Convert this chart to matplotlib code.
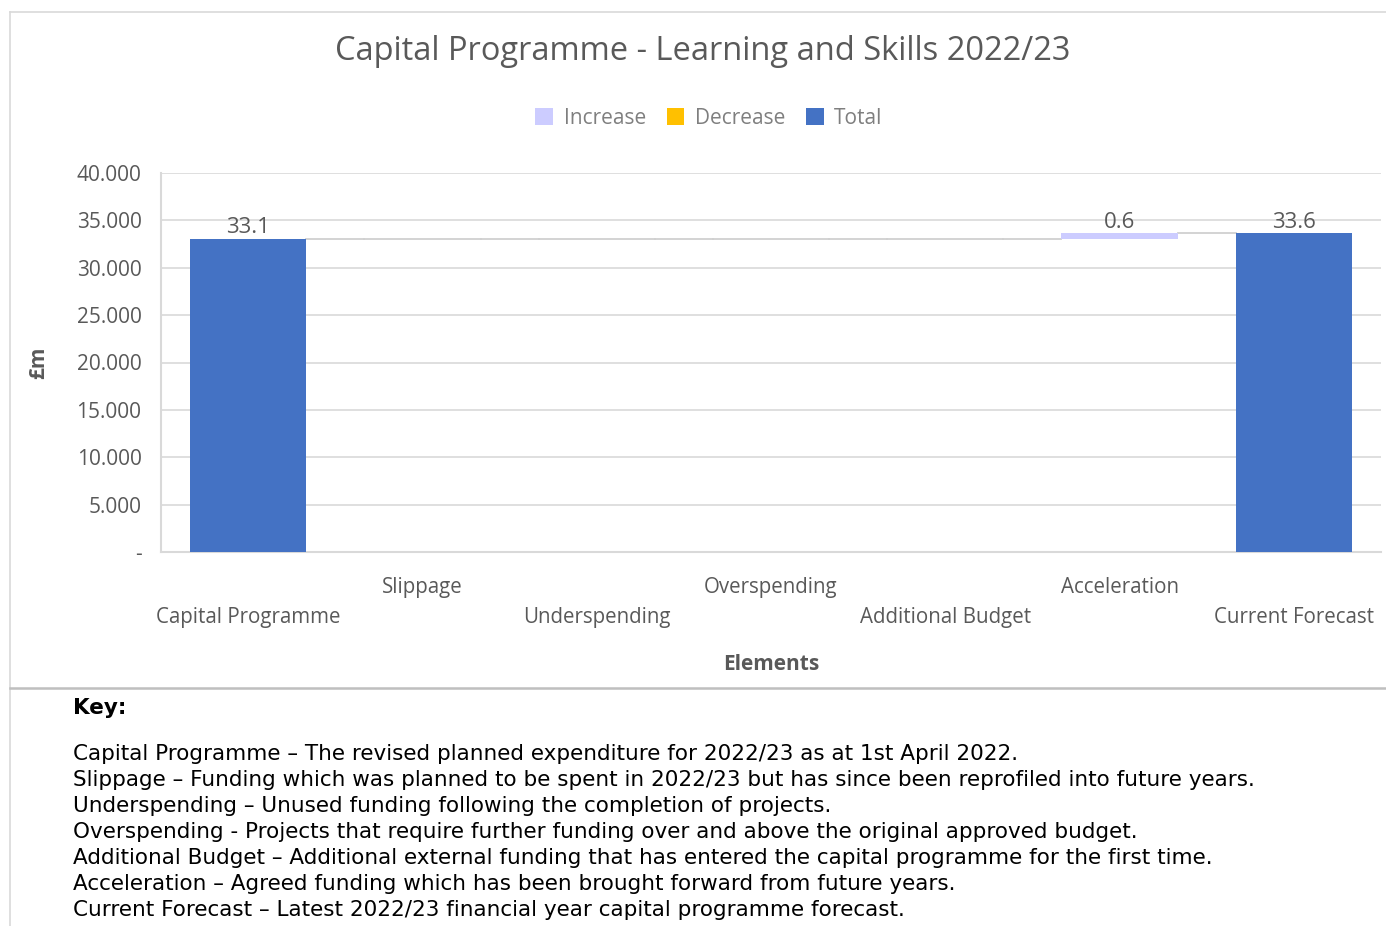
import matplotlib
matplotlib.use("Agg")
import matplotlib.pyplot as plt
from matplotlib.patches import Patch
from matplotlib.lines import Line2D

# ---- data ----
categories = ["Capital Programme", "Slippage", "Underspending", "Overspending",
              "Additional Budget", "Acceleration", "Current Forecast"]
values = [33.06, 0.0, 0.0, 0.0, 0.0, 0.56, 33.62]
kinds = ["total", "decrease", "decrease", "increase", "increase", "increase", "total"]
yticks = [0, 5, 10, 15, 20, 25, 30, 35, 40]
key_lines = [
    "Capital Programme \u2013 The revised planned expenditure for 2022/23 as at 1st April 2022.",
    "Slippage \u2013 Funding which was planned to be spent in 2022/23 but has since been reprofiled into future years.",
    "Underspending \u2013 Unused funding following the completion of projects.",
    "Overspending - Projects that require further funding over and above the original approved budget.",
    "Additional Budget \u2013 Additional external funding that has entered the capital programme for the first time.",
    "Acceleration \u2013 Agreed funding which has been brought forward from future years.",
    "Current Forecast \u2013 Latest 2022/23 financial year capital programme forecast.",
]

colors = {"increase": "#ccccff", "decrease": "#ffc000", "total": "#4472c4"}
TXT = "#595959"
GRID = "#d9d9d9"
W, H = 1386, 926

plt.rcParams["font.family"] = ["Open Sans", "DejaVu Sans"]

fig = plt.figure(figsize=(W / 100, H / 100), dpi=100)
fig.patch.set_facecolor("white")
ax = fig.add_axes([161 / W, 1 - 552 / H, (1381 - 161) / W, (552 - 173) / H])

# waterfall computation
bottoms, heights = [], []
running = 0.0
for v, k in zip(values, kinds):
    if k == "total":
        bottoms.append(0.0)
        heights.append(v)
        running = v
    elif k == "increase":
        bottoms.append(running)
        heights.append(v)
        running += v
    else:
        running -= v
        bottoms.append(running)
        heights.append(v)

bw = 0.667
x = list(range(len(categories)))
for i in x:
    if heights[i] > 0:
        ax.bar(i, heights[i], bottom=bottoms[i], width=bw, color=colors[kinds[i]],
               zorder=3)
        ax.text(i, bottoms[i] + heights[i] + 0.05, f"{values[i]:.1f}", ha="center",
                va="bottom", fontsize=16, color=TXT, zorder=4)

# connectors
levels = [b + h if k != "decrease" else b for b, h, k in zip(bottoms, heights, kinds)]
for i in range(len(x) - 1):
    lvl = levels[i]
    ax.plot([i + bw / 2, i + 1 - bw / 2], [lvl, lvl], color="#d0d0d0", lw=1.3, zorder=2)
    if i + 1 < len(x) - 1 and heights[i + 1] == 0:
        ax.plot([i + 1 - bw / 2, i + 1 + bw / 2], [lvl, lvl], color="#d0d0d0", lw=1.3,
                zorder=2)

ax.set_xlim(-0.5, len(categories) - 0.5)
ax.set_ylim(0, 40)
ax.set_yticks(yticks)
ax.set_yticklabels(["-" if t == 0 else f"{t:.3f}" for t in yticks])
ax.set_xticks(x)
ax.set_xticklabels(categories)
ax.grid(axis="y", color=GRID, lw=1.2, zorder=0)
ax.set_axisbelow(True)
for s in ["top", "right"]:
    ax.spines[s].set_visible(False)
for s in ["left", "bottom"]:
    ax.spines[s].set_color(GRID)
    ax.spines[s].set_linewidth(1.5)
ax.tick_params(axis="both", length=0, colors=TXT)
ax.tick_params(axis="x", labelsize=14.8)
ax.tick_params(axis="y", labelsize=15, pad=14)
for i, t in enumerate(ax.xaxis.get_major_ticks()):
    t.set_pad(39.5 if i % 2 == 0 else 18)

ax.set_ylabel("\u00a3m", fontsize=15, fontweight="bold", color=TXT)
ax.yaxis.set_label_coords((49 - 161) / (1381 - 161), 0.5)
ax.set_xlabel("Elements", fontsize=15, fontweight="bold", color=TXT)
ax.xaxis.label.set_va("center")
ax.xaxis.set_label_coords(0.5, (552 - 664) / (552 - 173))

fig.text(703 / W, 1 - 52 / H, "Capital Programme - Learning and Skills 2022/23",
         ha="center", va="center", fontsize=23.5, color=TXT)

handles = [Patch(facecolor=colors[k], edgecolor="none") for k in ["increase", "decrease", "total"]]
leg = fig.legend(handles, ["Increase", "Decrease", "Total"], loc="center",
                 bbox_to_anchor=(709 / W, 1 - 118 / H), ncol=3, frameon=False,
                 fontsize=15, handlelength=0.85, handleheight=0.85, handletextpad=0.5,
                 columnspacing=1.0)
for t in leg.get_texts():
    t.set_color("#7f7f7f")

# frames
def fline(x0, y0, x1, y1, c="#d9d9d9", lw=1.2):
    fig.add_artist(Line2D([x0 / W, x1 / W], [1 - y0 / H, 1 - y1 / H], color=c, lw=lw))

fline(10, 12, W, 12)
fline(10, 12, 10, H)
fline(10, 688, W, 688, c="#bfbfbf", lw=1.8)

# key
fig.text(73 / W, 1 - 708 / H, "Key:", ha="left", va="center", fontsize=15.5,
         fontweight="bold", family="DejaVu Sans", color="black")
for j, line in enumerate(key_lines):
    fig.text(73 / W, 1 - (754 + 26 * j) / H, line, ha="left", va="center",
             fontsize=15.5, family="DejaVu Sans", color="black")

fig.savefig("out.png", dpi=100)
